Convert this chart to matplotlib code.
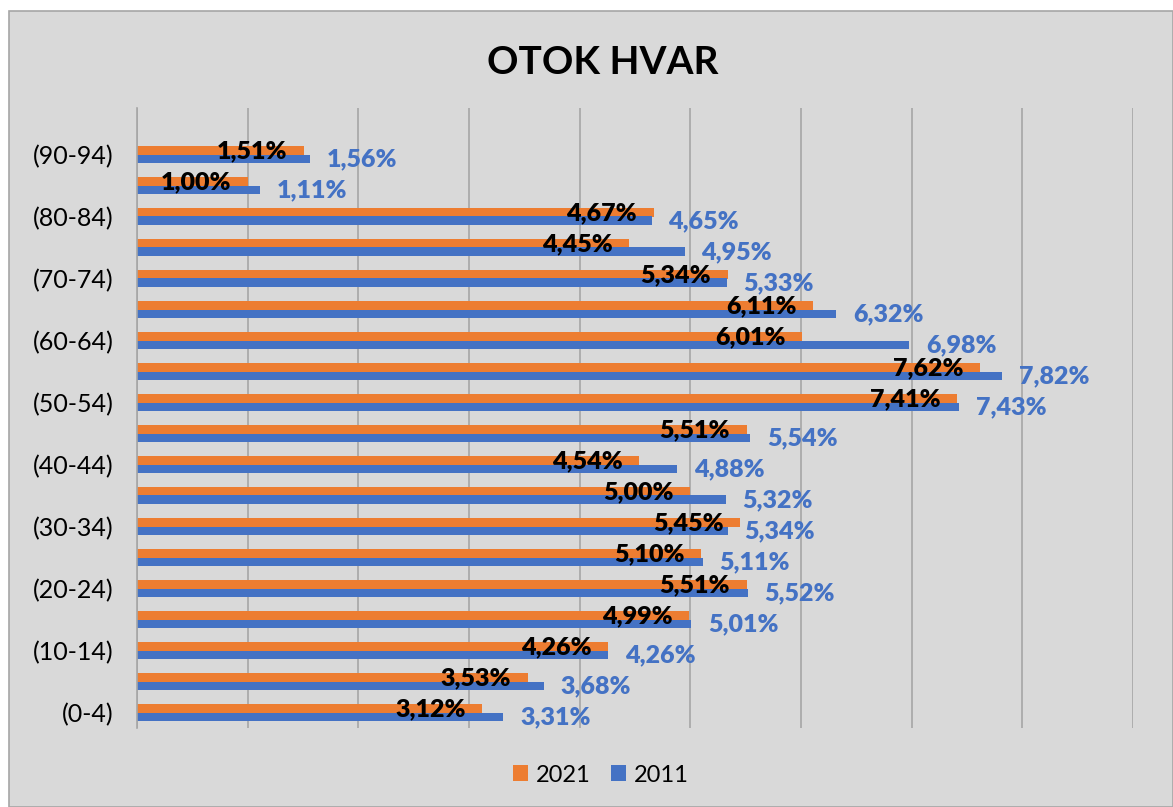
import numpy as np
import matplotlib.pyplot as plt
from matplotlib.ticker import MultipleLocator

# age groups, bottom to top
groups = ['(0-4)', '(5-9)', '(10-14)', '(15-19)', '(20-24)', '(25-29)', '(30-34)',
          '(35-39)', '(40-44)', '(45-49)', '(50-54)', '(55-59)', '(60-64)', '(65-69)',
          '(70-74)', '(75-79)', '(80-84)', '(85-89)', '(90-94)']
share_2021 = [3.12, 3.53, 4.26, 4.99, 5.51, 5.10, 5.45, 5.00, 4.54, 5.51,
              7.41, 7.62, 6.01, 6.11, 5.34, 4.45, 4.67, 1.00, 1.51]
share_2011 = [3.31, 3.68, 4.26, 5.01, 5.52, 5.11, 5.34, 5.32, 4.88, 5.54,
              7.43, 7.82, 6.98, 6.32, 5.33, 4.95, 4.65, 1.11, 1.56]

orange = '#ED7D31'
blue = '#4472C4'
bg = '#D9D9D9'

plt.rcParams['font.family'] = ['Lato', 'DejaVu Sans']

fig = plt.figure(figsize=(11.73, 8.07), dpi=100, facecolor='white')
# chart area with border
border = plt.Rectangle((9 / 1173, 0), 1 - 9 / 1173, 1 - 11 / 807,
                       transform=fig.transFigure, facecolor=bg,
                       edgecolor='#A6A6A6', linewidth=1.2, zorder=-10)
fig.patches.append(border)

ax = fig.add_axes([137 / 1173, 1 - 728 / 807, (1133 - 137) / 1173, (728 - 108) / 807])
ax.set_zorder(1)
ax.set_facecolor(bg)

y = np.arange(len(groups))
h = 0.29
ax.barh(y + h / 2, share_2021, height=h, color=orange, label='2021', zorder=2)
ax.barh(y - h / 2, share_2011, height=h, color=blue, label='2011', zorder=2)

for yi, v in zip(y, share_2021):
    ax.annotate(f'{v:.2f}%'.replace('.', ','), (v, yi + h / 2 - 0.05),
                xytext=(-12, 0), textcoords='offset points', ha='right', va='center',
                fontsize=18, fontweight='heavy', color='black', zorder=3)
for yi, v in zip(y, share_2011):
    ax.annotate(f'{v:.2f}%'.replace('.', ','), (v, yi - h / 2 - 0.02),
                xytext=(12, 0), textcoords='offset points', ha='left', va='center',
                fontsize=18, fontweight='heavy', color=blue, zorder=3)

ax.set_xlim(0, 9)
ax.set_ylim(-0.5, 19.5)
ax.xaxis.set_major_locator(MultipleLocator(1))
ax.grid(axis='x', color='#A6A6A6', linewidth=1.2, zorder=1)
ax.set_axisbelow(True)
ax.set_xticklabels([])
ax.tick_params(axis='x', length=0)
ax.set_yticks(y[::2])
ax.set_yticklabels(groups[::2], fontsize=18)
ax.tick_params(axis='y', length=0, pad=17)
for s in ['top', 'right', 'bottom']:
    ax.spines[s].set_visible(False)
ax.spines['left'].set_color('#A6A6A6')
ax.spines['left'].set_linewidth(1.2)

fig.text(603 / 1173, 1 - 62 / 807, 'OTOK HVAR', ha='center', va='center',
         fontsize=28, fontweight='bold')

fig.legend(loc='center', bbox_to_anchor=(0.512, 1 - 775 / 807), ncol=2, frameon=False,
           fontsize=17, handlelength=0.64, handleheight=0.64, handletextpad=0.34,
           columnspacing=0.85)

fig.savefig('out.png', dpi=100, facecolor='white')
